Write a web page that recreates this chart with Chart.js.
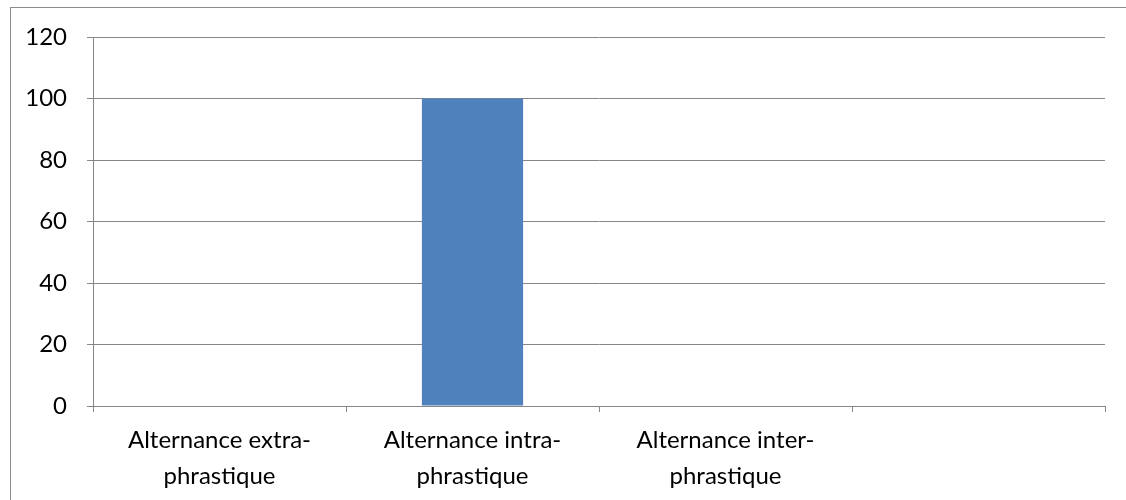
<!DOCTYPE html>
<html>
<head>
<meta charset="utf-8">
<script src="https://cdn.jsdelivr.net/npm/chart.js@4"></script>
<style>
  html, body { margin: 0; padding: 0; background: #fff; overflow: hidden; }
  #wrap { position: relative; width: 1126px; height: 500px; }
  #frame { position: absolute; left: 10px; top: 7px; width: 1130px; height: 510px;
           border: 1px solid #8c8c8c; box-sizing: border-box; }
  canvas { position: absolute; left: 0; top: 0; }
</style>
</head>
<body>
<div id="wrap">
  <div id="frame"></div>
  <canvas id="c" width="1126" height="500"></canvas>
</div>
<script>
const categories = [
  ['Alternance extra-', 'phrastique'],
  ['Alternance intra-', 'phrastique'],
  ['Alternance inter-', 'phrastique'],
  ''
];
const values = [0, 100, 0, null];
const yTicks = [0, 20, 40, 60, 80, 100, 120];

const axisGray = '#868686';
const fontSpec = { family: 'Lato, "Open Sans", sans-serif', size: 24 };

new Chart(document.getElementById('c'), {
  type: 'bar',
  data: {
    labels: categories,
    datasets: [{
      data: values,
      backgroundColor: '#4F81BD',
      borderWidth: 0,
      categoryPercentage: 0.8,
      barPercentage: 0.5
    }]
  },
  options: {
    responsive: false,
    animation: false,
    layout: { padding: { top: 37, right: 21, left: 0, bottom: 0 } },
    plugins: { legend: { display: false }, tooltip: { enabled: false } },
    scales: {
      x: {
        offset: true,
        grid: { offset: true, drawOnChartArea: false, drawTicks: true, tickLength: 6, color: axisGray, lineWidth: 1 },
        border: { color: axisGray, width: 1 },
        ticks: { color: '#000', font: { ...fontSpec, lineHeight: 1.5 }, padding: 10, maxRotation: 0, autoSkip: false },
        afterFit: s => { s.height = 94; }
      },
      y: {
        min: 0, max: 120,
        afterBuildTicks: s => { s.ticks = yTicks.map(v => ({ value: v })); },
        grid: { color: axisGray, lineWidth: 1, tickLength: 6 },
        border: { color: axisGray, width: 1 },
        ticks: { color: '#000', font: fontSpec, padding: 20 },
        afterFit: s => { s.width = 93; }
      }
    }
  }
});
</script>
</body>
</html>
